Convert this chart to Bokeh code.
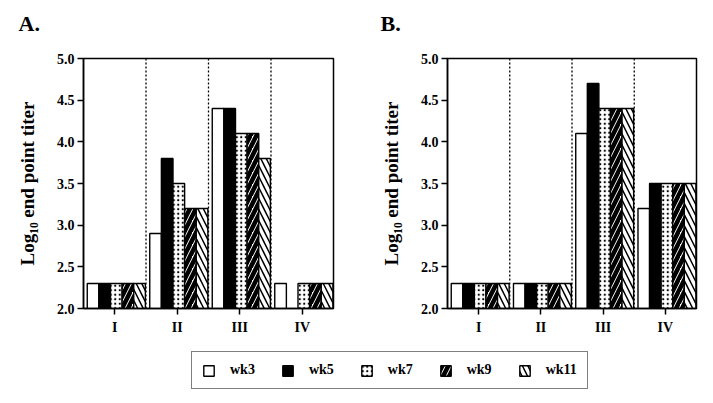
import numpy as np
from bokeh.plotting import figure
from bokeh.models import (ColumnDataSource, FixedTicker, PrintfTickFormatter, Span,
                          Label, Legend, LegendItem, Range1d)
from bokeh.layouts import column, row
from bokeh.embed import file_html
from bokeh.resources import INLINE

groups = ["I", "II", "III", "IV"]
weeks = ["wk3", "wk5", "wk7", "wk9", "wk11"]
panel_titles = ["A.", "B."]

nan = float("nan")
# Panel A values (log10 end point titer)
a_wk3 = [2.3, 2.9, 4.4, 2.3]
a_wk5 = [2.3, 3.8, 4.4, nan]
a_wk7 = [2.3, 3.5, 4.1, 2.3]
a_wk9 = [2.3, 3.2, 4.1, 2.3]
a_wk11 = [2.3, 3.2, 3.8, 2.3]
# Panel B values
b_wk3 = [2.3, 2.3, 4.1, 3.2]
b_wk5 = [2.3, 2.3, 4.7, 3.5]
b_wk7 = [2.3, 2.3, 4.4, 3.5]
b_wk9 = [2.3, 2.3, 4.4, 3.5]
b_wk11 = [2.3, 2.3, 4.4, 3.5]

y_ticks = [2.0, 2.5, 3.0, 3.5, 4.0, 4.5, 5.0]
FONT = "Liberation Serif"

styles = [
    dict(fill_color="white"),
    dict(fill_color="black"),
    dict(fill_color="white", hatch_pattern="dot", hatch_color="black", hatch_scale=4.5, hatch_weight=1.8),
    dict(fill_color="white", hatch_pattern="right_diagonal_line", hatch_color="black", hatch_scale=12, hatch_weight=4.5),
    dict(fill_color="white", hatch_pattern="left_diagonal_line", hatch_color="black", hatch_scale=11, hatch_weight=1.5),
]

BW = 0.186
SHIFT = 0.025
FIG_H = 305
STRIP_H = 40


def panel(series, width, bl, br):
    p = figure(width=width, height=FIG_H, output_backend="svg", toolbar_location=None,
               x_range=Range1d(0.5, 4.5), y_range=Range1d(2.0, 5.0),
               min_border_left=bl, min_border_right=br, min_border_top=18, min_border_bottom=37)
    p.xgrid.visible = False
    p.ygrid.visible = False
    p.outline_line_color = "black"
    p.outline_line_width = 1.5
    p.background_fill_color = "white"
    p.border_fill_color = "white"

    base = np.arange(1, len(groups) + 1, dtype=float)
    for j, (vals, st) in enumerate(zip(series, styles)):
        xs = base + (j - 2) * BW + SHIFT
        tops = np.array(vals, dtype=float)
        ok = np.isfinite(tops)
        src = ColumnDataSource(dict(x=xs[ok], top=tops[ok]))
        p.vbar(x="x", top="top", bottom=2.0, width=BW, source=src,
               line_color="black", line_width=1.4, **st)

    for k in range(1, len(groups)):
        p.add_layout(Span(location=k + 0.5, dimension="height", line_color="black",
                          line_width=1.3, line_dash="2 2"))

    for ax in (p.xaxis[0], p.yaxis[0]):
        ax.axis_line_width = 1.5
        ax.axis_line_color = "black"
        ax.major_tick_line_width = 1.5
        ax.major_tick_line_color = "black"
        ax.major_tick_out = 6
        ax.major_tick_in = 0
        ax.minor_tick_out = 0
        ax.minor_tick_in = 0
        ax.major_label_text_font = FONT
        ax.major_label_text_font_style = "bold"
        ax.major_label_text_font_size = "14px"
        ax.major_label_text_color = "black"

    p.xaxis.ticker = FixedTicker(ticks=list(range(1, len(groups) + 1)))
    p.xaxis.major_label_overrides = {i + 1: g for i, g in enumerate(groups)}
    p.xaxis.major_label_standoff = 5

    p.yaxis.ticker = FixedTicker(ticks=y_ticks)
    p.yaxis.formatter = PrintfTickFormatter(format="%.1f")
    p.yaxis.major_label_standoff = 3
    p.yaxis.axis_label = "Log\u2081\u2080 end point titer"
    p.yaxis.axis_label_text_font = FONT
    p.yaxis.axis_label_text_font_style = "bold"
    p.yaxis.axis_label_text_font_size = "19px"
    p.yaxis.axis_label_text_color = "black"
    p.yaxis.axis_label_standoff = 16
    return p


def strip(height):
    f = figure(width=705, height=height, output_backend="svg", toolbar_location=None,
               x_range=Range1d(0, 1), y_range=Range1d(0, 1),
               min_border=0, min_border_left=0, min_border_right=0,
               min_border_top=0, min_border_bottom=0)
    f.axis.visible = False
    f.grid.visible = False
    f.outline_line_color = None
    return f


# panel letters
top = strip(STRIP_H)
for t, tx in zip(panel_titles, [18, 380]):
    top.add_layout(Label(text=t, x=tx, y=STRIP_H - 10, x_units="screen", y_units="screen",
                         text_font=FONT, text_font_size="22px", text_font_style="bold",
                         text_color="black", text_baseline="top", text_align="left"))

pA = panel([a_wk3, a_wk5, a_wk7, a_wk9, a_wk11], 368, 83, 35)
pB = panel([b_wk3, b_wk5, b_wk7, b_wk9, b_wk11], 337, 79, 9)

leg = strip(50)
items = []
for w, st in zip(weeks, styles):
    r = leg.vbar(x="x", top="top", bottom="top", width=0.1,
                 source=ColumnDataSource(dict(x=[nan], top=[nan])),
                 line_color="black", line_width=1.4, **st)
    items.append(LegendItem(label=w, renderers=[r]))
legend = Legend(items=items, orientation="horizontal", location=(191, 6),
                glyph_width=13, glyph_height=13, label_standoff=15, spacing=26,
                padding=10, margin=0,
                label_text_font=FONT, label_text_font_style="bold", label_text_font_size="14px",
                label_text_color="black",
                border_line_color="black", border_line_width=1.5,
                background_fill_color="white", background_fill_alpha=1.0)
leg.add_layout(legend, "center")

layout = column(top, row(pA, pB), leg)
open("out.html", "w").write(file_html(layout, INLINE))
